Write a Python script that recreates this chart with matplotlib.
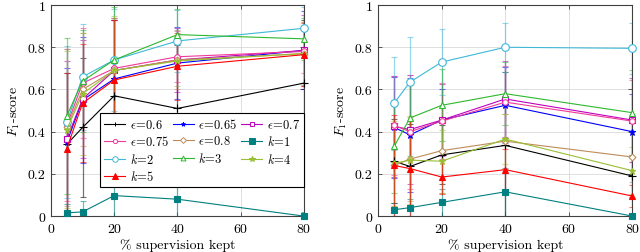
import matplotlib
matplotlib.use("Agg")
import matplotlib.pyplot as plt

plt.rcParams['font.family'] = ['cmr10', 'DejaVu Serif']
plt.rcParams['mathtext.fontset'] = 'cm'
plt.rcParams['axes.formatter.use_mathtext'] = True
plt.rcParams['axes.unicode_minus'] = False

# % supervision kept
x = [5, 10, 20, 40, 80]

names = [r"$\epsilon\!=\!0.6$", r"$\epsilon\!=\!0.65$", r"$\epsilon\!=\!0.7$", r"$\epsilon\!=\!0.75$",
         r"$\epsilon\!=\!0.8$", r"$k\!=\!1$", r"$k\!=\!2$", r"$k\!=\!3$", r"$k\!=\!4$", r"$k\!=\!5$"]

# left panel
left_vals = [
    [0.34, 0.42, 0.57, 0.51, 0.63],
    [0.35, 0.55, 0.65, 0.725, 0.785],
    [0.365, 0.555, 0.69, 0.74, 0.785],
    [0.43, 0.63, 0.70, 0.755, 0.78],
    [0.42, 0.60, 0.69, 0.74, 0.77],
    [0.015, 0.02, 0.097, 0.08, 0.0],
    [0.445, 0.66, 0.74, 0.83, 0.89],
    [0.475, 0.64, 0.74, 0.86, 0.84],
    [0.41, 0.58, 0.69, 0.735, 0.77],
    [0.32, 0.535, 0.645, 0.71, 0.765],
]
left_err = [
    [0.34, 0.33, 0.36, 0.30, 0.30],
    [0.35, 0.30, 0.28, 0.17, 0.185],
    [0.37, 0.28, 0.25, 0.15, 0.17],
    [0.36, 0.26, 0.23, 0.12, 0.10],
    [0.37, 0.27, 0.25, 0.14, 0.15],
    [0.04, 0.05, 0.12, 0.12, 0.02],
    [0.36, 0.25, 0.24, 0.145, 0.10],
    [0.37, 0.24, 0.25, 0.12, 0.10],
    [0.37, 0.29, 0.26, 0.12, 0.15],
    [0.36, 0.28, 0.285, 0.16, 0.15],
]

# right panel
right_vals = [
    [0.26, 0.235, 0.29, 0.335, 0.19],
    [0.42, 0.385, 0.455, 0.525, 0.40],
    [0.425, 0.41, 0.455, 0.555, 0.455],
    [0.43, 0.40, 0.45, 0.54, 0.45],
    [0.24, 0.27, 0.31, 0.355, 0.28],
    [0.03, 0.04, 0.065, 0.115, 0.0],
    [0.535, 0.635, 0.73, 0.80, 0.795],
    [0.33, 0.465, 0.525, 0.58, 0.49],
    [0.25, 0.265, 0.26, 0.365, 0.215],
    [0.24, 0.225, 0.185, 0.22, 0.095],
]
right_err = [
    [0.20, 0.20, 0.14, 0.35, 0.10],
    [0.24, 0.27, 0.145, 0.18, 0.18],
    [0.24, 0.26, 0.17, 0.18, 0.20],
    [0.235, 0.27, 0.18, 0.17, 0.195],
    [0.19, 0.20, 0.20, 0.13, 0.12],
    [0.03, 0.04, 0.065, 0.115, 0.01],
    [0.22, 0.215, 0.155, 0.115, 0.12],
    [0.22, 0.18, 0.17, 0.15, 0.20],
    [0.20, 0.21, 0.15, 0.12, 0.11],
    [0.24, 0.225, 0.08, 0.10, 0.05],
]

colors = ['black', '#0000ff', '#bf00bf', '#f0389a', '#bf8c59',
          '#008080', '#3fb8d8', '#2eb82e', '#99bf33', '#ff0000']
markers = ['+', '*', 's', 'o', 'D', 's', 'o', '^', '*', '^']
msizes = [6, 4.5, 5, 4, 3.5, 5, 5.5, 4.5, 4.5, 5]
filled = [True, True, False, False, False, True, False, False, True, True]

fig = plt.figure(figsize=(6.4, 2.53), dpi=100)
ax1 = fig.add_axes([0.0797, 0.142, 0.395, 0.834])
ax2 = fig.add_axes([0.591, 0.142, 0.397, 0.834])


def draw(ax, vals, errs):
    handles = []
    for i in range(len(names)):
        c = colors[i]
        ax.errorbar(x, vals[i], yerr=errs[i], fmt='none', ecolor=c, elinewidth=0.9,
                    capsize=2.5, capthick=0.8, alpha=0.55, zorder=2)
        ln, = ax.plot(x, vals[i], color=c, lw=0.8, marker=markers[i], ms=msizes[i],
                      mfc=c if filled[i] else 'white', mec=c, mew=0.8,
                      clip_on=False, zorder=3)
        handles.append(ln)
    ax.set_xlim(0, 80)
    ax.set_ylim(0, 1)
    ax.set_xticks([0, 20, 40, 60, 80])
    ax.set_yticks([0, 0.2, 0.4, 0.6, 0.8, 1])
    ax.set_yticklabels(['0', '0.2', '0.4', '0.6', '0.8', '1'])
    ax.grid(True, color='#d9d9d9', lw=0.6)
    ax.set_axisbelow(True)
    ax.tick_params(direction='in', length=3, width=0.6, top=True, right=True,
                   labelsize=10, pad=4, color='#404040')
    for s in ax.spines.values():
        s.set_color('#404040')
        s.set_linewidth(0.8)
    ax.set_xlabel('% supervision kept', fontsize=10, labelpad=3)
    ax.set_ylabel(r'$F_1$-score', fontsize=10, labelpad=4)
    return handles


h = draw(ax1, left_vals, left_err)
draw(ax2, right_vals, right_err)

# legend is filled column by column, reference reads row by row
order = [0, 3, 6, 9, 1, 4, 7, 2, 5, 8]
small = [3, 3, 3.5, 3, 3, 4, 4, 3.5, 4, 4]
hl = []
for i in order:
    ln = h[i]
    proxy, = ax1.plot([], [], color=ln.get_color(), lw=0.8, marker=ln.get_marker(),
                      ms=small[i], mfc=ln.get_markerfacecolor(), mec=ln.get_color(), mew=0.7)
    hl.append(proxy)
leg = ax1.legend(hl, [names[i] for i in order], ncol=3,
                 loc='lower right', bbox_to_anchor=(1.0, 0.137), fontsize=9,
                 frameon=True, fancybox=False, edgecolor='black', framealpha=1,
                 handlelength=1.7, handletextpad=0.35, columnspacing=0.3,
                 labelspacing=0.28, borderpad=0.3, borderaxespad=0)
leg.get_frame().set_linewidth(0.8)

fig.savefig('out.png', dpi=100)
